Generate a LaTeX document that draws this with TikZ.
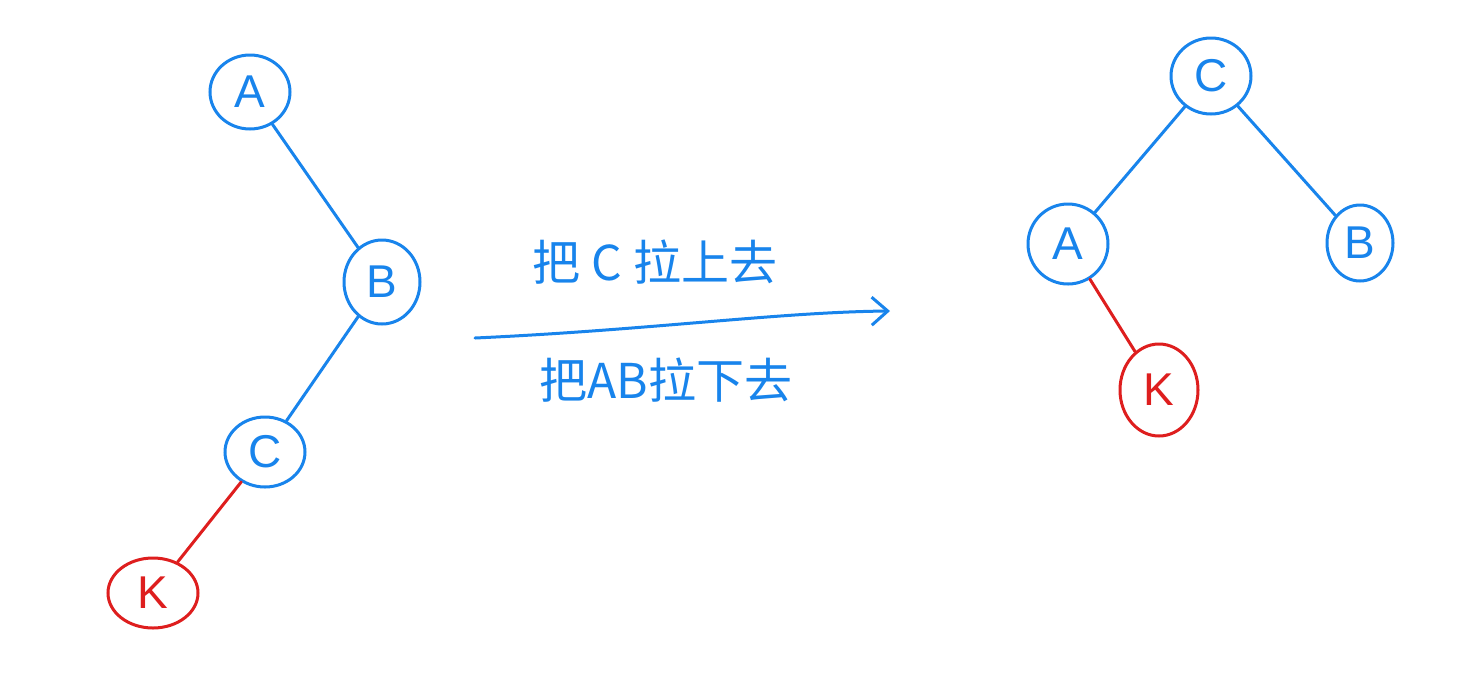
\documentclass[tikz,border=0pt]{standalone}
\usepackage{fontspec}
\newfontfamily\cjk{Noto Sans CJK SC}
\setsansfont{Liberation Sans}
\usetikzlibrary{shapes.geometric,arrows.meta}
\definecolor{penblue}{RGB}{24,132,236}
\definecolor{penred}{RGB}{222,30,30}
\tikzset{
  blueknot/.style={draw=penblue, ellipse, line width=1.5pt, text=penblue, font=\sffamily\fontsize{23}{23}\selectfont, inner sep=0pt},
  redknot/.style={draw=penred, ellipse, line width=1.5pt, text=penred, font=\sffamily\fontsize{23}{23}\selectfont, inner sep=0pt},
  blueline/.style={draw=penblue, line width=1.5pt, line cap=round},
  redline/.style={draw=penred, line width=1.5pt, line cap=round}
}
\begin{document}
\begin{tikzpicture}[x=0.5pt, y=-0.5pt]
    \useasboundingbox[fill=white] (0,0) rectangle (1474,682);
    % Arbre de gauche
    \node[blueknot, minimum width=40pt, minimum height=37pt] (la) at (250,92) {A};
    \node[blueknot, minimum width=38pt, minimum height=42pt] (lb) at (382,282) {B};
    \node[blueknot, minimum width=40pt, minimum height=35pt] (lc) at (265,452) {C};
    \node[redknot, minimum width=45pt, minimum height=35pt] (lk) at (153,593) {K};
    
    % Arbre de droite
    \node[blueknot, minimum width=40pt, minimum height=38pt] (rc) at (1211,76) {C};
    \node[blueknot, minimum width=40pt, minimum height=40pt] (ra) at (1068,244) {A};
    \node[blueknot, minimum width=33pt, minimum height=38pt] (rb) at (1360,243) {B};
    \node[redknot, minimum width=39pt, minimum height=46pt] (rk) at (1159,390) {K};
    
    % Flèche et textes
    \coordinate (from) at (475,338);
    \coordinate (to) at (890,311);
    \draw[blueline, -{Straight Barb[length=8pt, width=14pt]}] (from) .. controls (650,330) and (780,312) .. (to);
    \node[text=penblue, font=\cjk\fontsize{24}{24}\selectfont] (up) at (655,262) {把 C 拉上去};
    \node[text=penblue, font=\cjk\fontsize{24}{24}\selectfont] (down) at (666,380) {把AB拉下去};
    
    % Branches
    \draw[blueline] (la) -- (lb);
    \draw[blueline] (lb) -- (lc);
    \draw[redline] (lc) -- (lk);
    \draw[blueline] (rc) -- (ra);
    \draw[blueline] (rc) -- (rb);
    \draw[redline] (ra) -- (rk);
\end{tikzpicture}
\end{document}
